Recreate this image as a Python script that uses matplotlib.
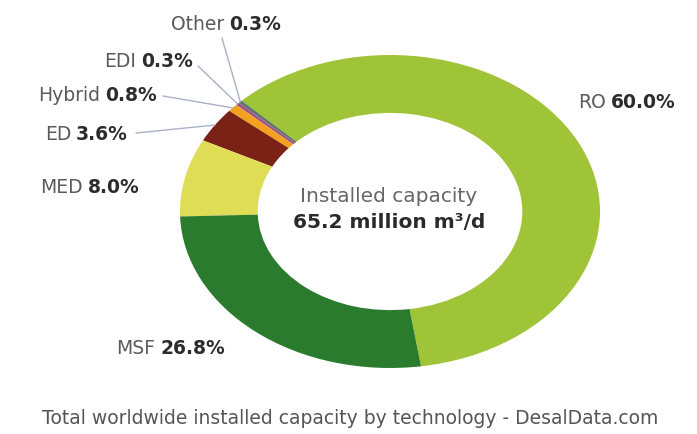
import matplotlib
matplotlib.use('Agg')
import matplotlib.pyplot as plt
import numpy as np

plt.rcParams['font.family'] = ['DejaVu Sans']

# share of installed desalination capacity by technology (%)
technologies = ['RO', 'Other', 'EDI', 'Hybrid', 'ED', 'MED', 'MSF']
shares = [60.0, 0.3, 0.3, 0.8, 3.6, 8.0, 26.8]
colors = ['#a0c438', '#5d7868', '#a4528c', '#f2a21e', '#7b2217', '#dedd55', '#2b7b2f']
total_capacity = 65.2  # million m3/d

W, H = 697, 434
fig = plt.figure(figsize=(W / 100, H / 100), dpi=100)
fig.patch.set_facecolor('white')

# the ring is drawn stretched sideways, like the original artwork
ax = fig.add_axes([180 / W, 1 - 368 / H, 420 / W, 313 / H])
wedges, _ = ax.pie(shares, colors=colors, startangle=278.5, counterclock=True,
                   wedgeprops=dict(width=0.37, edgecolor='none', antialiased=True))
ax.set_aspect('auto')
ax.set_xlim(-1, 1)
ax.set_ylim(-1, 1)

# label anchors in pixels from the top-left: x, baseline y, alignment
label_pos = {
    'RO': (578, 108, 'left'),
    'Other': (226, 30, 'center'),
    'EDI': (193, 67, 'right'),
    'Hybrid': (157, 101, 'right'),
    'ED': (128, 140, 'right'),
    'MED': (140, 193, 'right'),
    'MSF': (225, 354, 'right'),
}
# where the leader lines leave the labels
leader_start = {
    'Other': (222, 38),
    'EDI': (198, 66),
    'Hybrid': (163, 96),
    'ED': (136, 133),
}

renderer = fig.canvas.get_renderer()
fs = 13.5
gap = 5
for name, val, w in zip(technologies, shares, wedges):
    x, y, ha = label_pos[name]
    t1 = fig.text(0, 0, name, fontsize=fs, color='#5a5a5a', va='baseline')
    t2 = fig.text(0, 0, f'{val:.1f}%', fontsize=fs, color='#2c2c2c',
                  weight='bold', va='baseline')
    w1 = t1.get_window_extent(renderer).width
    w2 = t2.get_window_extent(renderer).width
    total = w1 + gap + w2
    if ha == 'left':
        x0 = x
    elif ha == 'right':
        x0 = x - total
    else:
        x0 = x - total / 2
    t1.set_position((x0 / W, 1 - y / H))
    t2.set_position(((x0 + w1 + gap) / W, 1 - y / H))

    if name in leader_start:
        sx, sy = leader_start[name]
        mid = np.deg2rad((w.theta1 + w.theta2) / 2)
        ax.annotate('', xy=(np.cos(mid), np.sin(mid)), xycoords='data',
                    xytext=(sx, H - sy), textcoords='figure pixels',
                    arrowprops=dict(arrowstyle='-', color='#a9b0c8', lw=1,
                                    shrinkA=0, shrinkB=0),
                    annotation_clip=False)

# centre text
fig.text(389 / W, 1 - 197 / H, 'Installed capacity', fontsize=14.5,
         color='#666666', ha='center', va='center')
fig.text(389 / W, 1 - 222 / H, f'{total_capacity} million m³/d', fontsize=14.5,
         color='#2a2a2a', weight='bold', ha='center', va='center')

fig.text(350 / W, 1 - 418 / H,
         'Total worldwide installed capacity by technology - DesalData.com',
         fontsize=13.5, color='#555555', ha='center', va='center')

fig.savefig('out.png', dpi=100, facecolor='white')
